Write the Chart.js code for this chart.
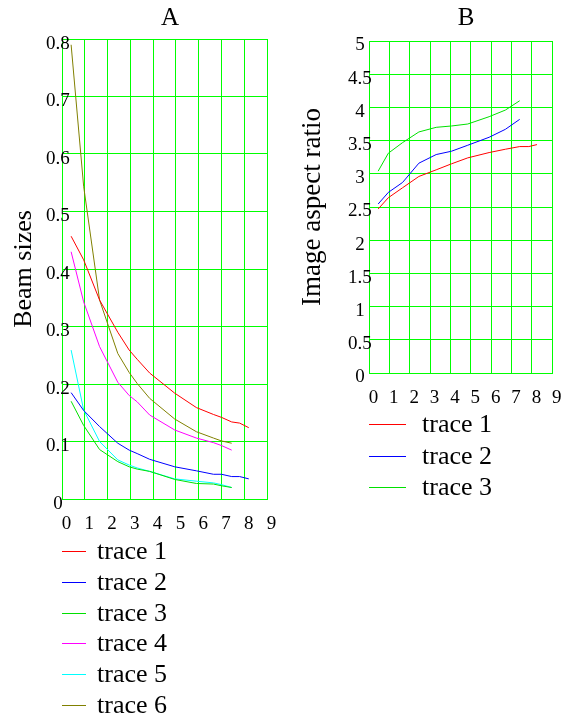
<!DOCTYPE html>
<html>
<head>
<meta charset="utf-8">
<script src="https://cdn.jsdelivr.net/npm/chart.js@4/dist/chart.umd.min.js"></script>
<style>
  html, body { margin: 0; padding: 0; background: #fff; }
  body { width: 571px; height: 724px; position: relative; overflow: hidden; font-family: "Liberation Serif", serif; }
  canvas { position: absolute; }
  #cA { left: 0; top: 0; }
  #cB { left: 290px; top: 0; }
  .leg { position: absolute; font-size: 26px; line-height: 30px; color: #000; white-space: nowrap; }
  .leg span.ln { position: absolute; top: 15px; height: 1px; }
  .leg span.tx { position: absolute; top: 0; }
</style>
</head>
<body>
<canvas id="cA" width="290" height="540"></canvas>
<canvas id="cB" width="281" height="410"></canvas>
<div id="legA"></div>
<div id="legB"></div>
<script>
// ---------- data ----------
const xA = [0.4, 0.95, 1.65, 2.45, 2.95, 3.3, 3.85, 4.95, 5.9, 6.65, 7.0, 7.45, 7.8, 8.2];
const trace1A = [0.457, 0.416, 0.346, 0.29, 0.259, 0.243, 0.219, 0.184, 0.159, 0.147, 0.142, 0.134, 0.132, 0.124];
const trace2A = [0.185, 0.154, 0.126, 0.097, 0.085, 0.079, 0.069, 0.056, 0.049, 0.043, 0.043, 0.039, 0.039, 0.035];
const trace3A = [0.170, 0.128, 0.086, 0.065, 0.056, 0.052, 0.048, 0.034, 0.027, 0.026, 0.023, 0.020];
const trace4A = [0.430, 0.343, 0.265, 0.203, 0.180, 0.169, 0.146, 0.120, 0.106, 0.098, 0.093, 0.085];
const trace5A = [0.259, 0.155, 0.100, 0.068, 0.059, 0.054, 0.048, 0.035, 0.031, 0.028, 0.025, 0.020];
const trace6A = [0.790, 0.544, 0.346, 0.253, 0.220, 0.201, 0.175, 0.139, 0.117, 0.106, 0.101, 0.097];

const xB = [0.45, 0.95, 1.65, 2.45, 3.3, 4.05, 4.85, 5.9, 6.7, 7.4, 7.85, 8.25];
const trace1B = [2.47, 2.64, 2.79, 2.96, 3.06, 3.15, 3.24, 3.32, 3.37, 3.41, 3.41, 3.44];
const trace2B = [2.545, 2.72, 2.87, 3.16, 3.29, 3.34, 3.43, 3.55, 3.67, 3.82];
const trace3B = [3.04, 3.31, 3.47, 3.63, 3.70, 3.72, 3.75, 3.86, 3.96, 4.10];

const xTickLabels = ['0', '1', '2', '3', '4', '5', '6', '7', '8', '9'];
const yTickLabelsA = ['0', '0.1', '0.2', '0.3', '0.4', '0.5', '0.6', '0.7', '0.8'];
const yTickLabelsB = ['0', '0.5', '1', '1.5', '2', '2.5', '3', '3.5', '4', '4.5', '5'];

const namesA = ['trace 1', 'trace 2', 'trace 3', 'trace 4', 'trace 5', 'trace 6'];
const namesB = ['trace 1', 'trace 2', 'trace 3'];
const titleA = 'A';
const titleB = 'B';
const yTitleA = 'Beam sizes';
const yTitleB = 'Image aspect ratio';

// ---------- styles ----------
const colorsA = ['#ff0000', '#0000ff', '#00e000', '#ff00ff', '#00ffff', '#808000'];
const colorsB = ['#ff0000', '#0000ff', '#00e000'];
const gridColor = '#00ff00';
const FONT = '"Liberation Serif", "Times New Roman", serif';

const panelTitle = {
  id: 'panelTitle',
  afterDraw(chart, args, opts) {
    const ctx = chart.ctx;
    ctx.save();
    ctx.font = opts.size + 'px ' + FONT;
    ctx.fillStyle = '#000';
    ctx.textAlign = 'center';
    ctx.textBaseline = 'alphabetic';
    ctx.fillText(opts.text, opts.x, opts.y);
    ctx.restore();
  }
};

function series(xs, ys) { return ys.map((y, i) => ({ x: xs[i], y: y })); }

function makeChart(id, xs, traces, names, colors, cfg) {
  return new Chart(document.getElementById(id), {
    type: 'scatter',
    data: {
      datasets: traces.map((t, i) => ({
        label: names[i],
        data: series(xs, t),
        showLine: true,
        borderColor: colors[i],
        backgroundColor: colors[i],
        borderWidth: 1,
        pointRadius: 0,
        pointHoverRadius: 0,
        tension: 0
      }))
    },
    options: {
      responsive: false,
      animation: false,
      events: [],
      layout: { padding: cfg.padding },
      plugins: {
        legend: { display: false },
        tooltip: { enabled: false },
        title: { display: false },
        panelTitle: cfg.title
      },
      scales: {
        x: {
          type: 'linear', min: 0, max: 9,
          afterFit: s => { s.height = cfg.xHeight; },
          afterBuildTicks: s => { s.ticks = xTickLabels.map((_, i) => ({ value: i })); },
          grid: { color: gridColor, lineWidth: 1, drawTicks: false },
          border: { color: gridColor, width: 1 },
          ticks: {
            font: { family: FONT, size: 19 }, color: '#000',
            padding: 14, labelOffset: 4.5, maxRotation: 0, autoSkip: false,
            callback: (v, i) => xTickLabels[i]
          }
        },
        y: {
          type: 'linear', min: 0, max: cfg.yMax,
          afterFit: s => { s.width = cfg.yWidth; },
          afterBuildTicks: s => { s.ticks = cfg.yLabels.map((_, i) => ({ value: i * cfg.yStep })); },
          grid: { color: gridColor, lineWidth: 1, drawTicks: false },
          border: { color: gridColor, width: 1 },
          title: {
            display: true, text: cfg.yTitle, color: '#000',
            font: { family: FONT, size: cfg.yTitleSize },
            padding: { top: cfg.yTitlePad, bottom: 0 }
          },
          ticks: {
            font: { family: FONT, size: 19 }, color: '#000', mirror: true,
            crossAlign: 'center', padding: cfg.yTickPad, labelOffset: cfg.yLabelOffset, autoSkip: false,
            callback: (v, i) => cfg.yLabels[i]
          }
        }
      }
    },
    plugins: [panelTitle]
  });
}

makeChart('cA', xA, [trace1A, trace2A, trace3A, trace4A, trace5A, trace6A], namesA, colorsA, {
  padding: { left: 0, right: 23, top: 39, bottom: 0 },
  xHeight: 41, yWidth: 62, yMax: 0.8, yStep: 0.1, yLabels: yTickLabelsA,
  yTitle: yTitleA, yTitleSize: 26, yTitlePad: 9, yTickPad: -16, yLabelOffset: 5,
  title: { text: titleA, x: 170, y: 25, size: 25 }
});

makeChart('cB', xB, [trace1B, trace2B, trace3B], namesB, colorsB, {
  padding: { left: 0, right: 14, top: 41, bottom: 0 },
  xHeight: 37, yWidth: 79, yMax: 5, yStep: 0.5, yLabels: yTickLabelsB,
  yTitle: yTitleB, yTitleSize: 27, yTitlePad: 7, yTickPad: -21, yLabelOffset: 4.5,
  title: { text: titleB, x: 176, y: 25, size: 25 }
});

// ---------- legends (HTML) ----------
function buildLegend(id, names, colors, left, top, lineW, textLeft, step) {
  const host = document.getElementById(id);
  names.forEach((n, i) => {
    const d = document.createElement('div');
    d.className = 'leg';
    d.style.left = left + 'px';
    d.style.top = Math.round(top + i * step) + 'px';
    const ln = document.createElement('span');
    ln.className = 'ln';
    ln.style.left = '0px';
    ln.style.width = lineW + 'px';
    ln.style.background = colors[i];
    const tx = document.createElement('span');
    tx.className = 'tx';
    tx.style.left = textLeft + 'px';
    tx.textContent = n;
    d.appendChild(ln); d.appendChild(tx);
    host.appendChild(d);
  });
}
buildLegend('legA', namesA, colorsA, 62, 536, 24, 35, 30.8);
buildLegend('legB', namesB, colorsB, 369, 409, 37, 53, 31.5);
</script>
</body>
</html>
